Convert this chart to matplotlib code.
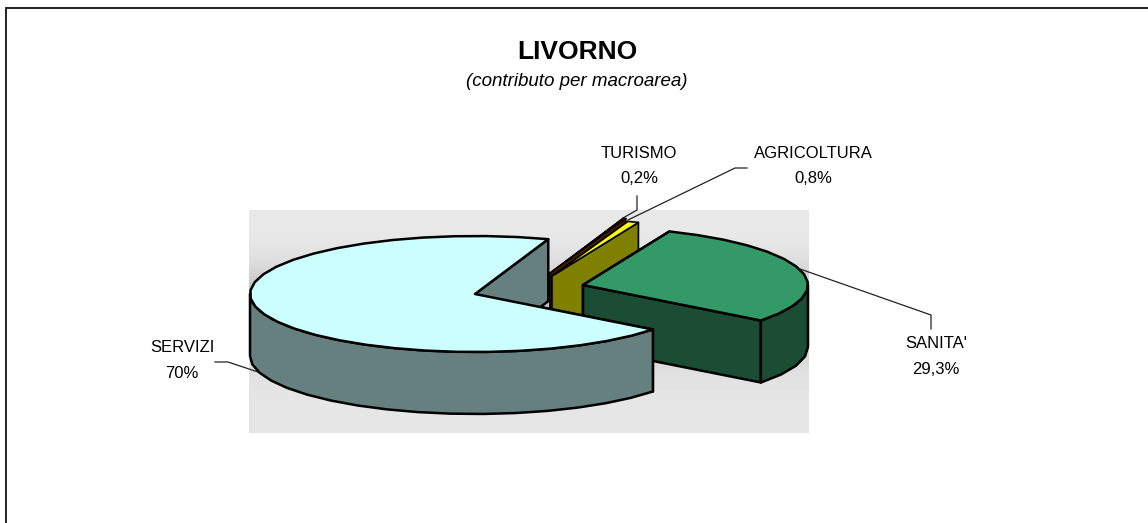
import numpy as np
import matplotlib
matplotlib.use("Agg")
import matplotlib.pyplot as plt
from matplotlib.patches import Polygon

plt.rcParams['font.family'] = ['Liberation Sans', 'DejaVu Sans']

categories = ["TURISMO", "AGRICOLTURA", "SANITA'", "SERVIZI"]
values = [0.2, 0.8, 29.3, 70.0]
value_labels = ["0,2%", "0,8%", "29,3%", "70%"]

# look of the 3D pie, in pixels of the reference
START = 71.0
RX, RY, DEPTH = 225, 58, 62
CENTERS = {"TURISMO": (550, 273), "AGRICOLTURA": (552, 276),
           "SANITA'": (583, 285), "SERVIZI": (475, 294)}
TOP = {"TURISMO": "#993300", "AGRICOLTURA": "#FFFF00",
       "SANITA'": "#339966", "SERVIZI": "#CCFFFF"}
WALL = {"TURISMO": "#4D1A00", "AGRICOLTURA": "#808000",
        "SANITA'": "#1A4D33", "SERVIZI": "#668080"}
EDGE_W = {"TURISMO": 1.0, "AGRICOLTURA": 1.2, "SANITA'": 1.8, "SERVIZI": 1.8}
LABEL_POS = {"TURISMO": (639, 153), "AGRICOLTURA": (813, 153),
             "SANITA'": (936, 344), "SERVIZI": (182, 348)}


def rim(c, a0, a1, dy=0, step=8.0):
    n = max(2, int(abs(a1 - a0) / step) + 1)
    t = np.radians(np.linspace(a0, a1, n))
    return np.column_stack([c[0] + RX * np.cos(t), c[1] - RY * np.sin(t) + dy])


def draw_slice(ax, name, a0, a1):
    """Clockwise sweep from a0 down to a1 (degrees, ccw from +x)."""
    c = CENTERS[name]
    kw = dict(ec="black", lw=EDGE_W[name], joinstyle="round")
    for a in (a0, a1):                        # radial cut faces
        p = rim(c, a, a)[0]
        face = [c, p, (p[0], p[1] + DEPTH), (c[0], c[1] + DEPTH)]
        ax.add_patch(Polygon(face, fc=WALL[name], **kw))
    s, e = min(a0, 0), max(a1, -180)          # outer wall, front half only
    if s > e:
        wall = np.vstack([rim(c, s, e), rim(c, e, s, dy=DEPTH)])
        ax.add_patch(Polygon(wall, fc=WALL[name], **kw))
    top = np.vstack([[c], rim(c, a0, a1)])
    ax.add_patch(Polygon(top, fc=TOP[name], **kw))


fig = plt.figure(figsize=(11.48, 5.23), dpi=100)
ax = fig.add_axes([0, 0, 1, 1])
ax.axis("off")

# frame: top and left sides only
ax.plot([6, 6, 1148], [523, 8, 8], color="#222222", lw=1.4, solid_joinstyle="miter")

# plot area gradient
grad = np.array([232, 232, 226, 214, 198, 192, 196, 206, 216, 224, 228, 230, 230]) / 255
ax.imshow(grad[:, None], cmap="gray", vmin=0, vmax=1, extent=(249, 809, 433, 210),
          aspect="auto", interpolation="bilinear", zorder=0)
ax.set_xlim(0, 1148)
ax.set_ylim(523, 0)

# slice angles from the values
total = sum(values)
a = START
for name, v in zip(categories, values):
    a1 = a - v / total * 360
    draw_slice(ax, name, a, a1)
    a = a1

# leader lines
ax.plot([637, 637, 623], [196, 210, 218], color="#222222", lw=0.9)
ax.plot([747, 735, 628], [168, 168, 220], color="#222222", lw=0.9)
ax.plot([931, 931, 800], [329, 315, 269], color="#222222", lw=0.9)
ax.plot([215, 228, 258], [362, 362, 372], color="#222222", lw=0.9)

# labels
for name, lab in zip(categories, value_labels):
    x, y = LABEL_POS[name]
    ax.text(x, y, name, ha="center", va="center", fontsize=12, color="black")
    ax.text(x, y + 25.5, lab, ha="center", va="center", fontsize=12, color="black")

ax.text(577, 52, "LIVORNO", ha="center", va="center", fontsize=19, fontweight="bold")
ax.text(577, 82, "(contributo per macroarea)", ha="center", va="center",
        fontsize=13.5, style="italic")

fig.savefig("out.png", dpi=100)
